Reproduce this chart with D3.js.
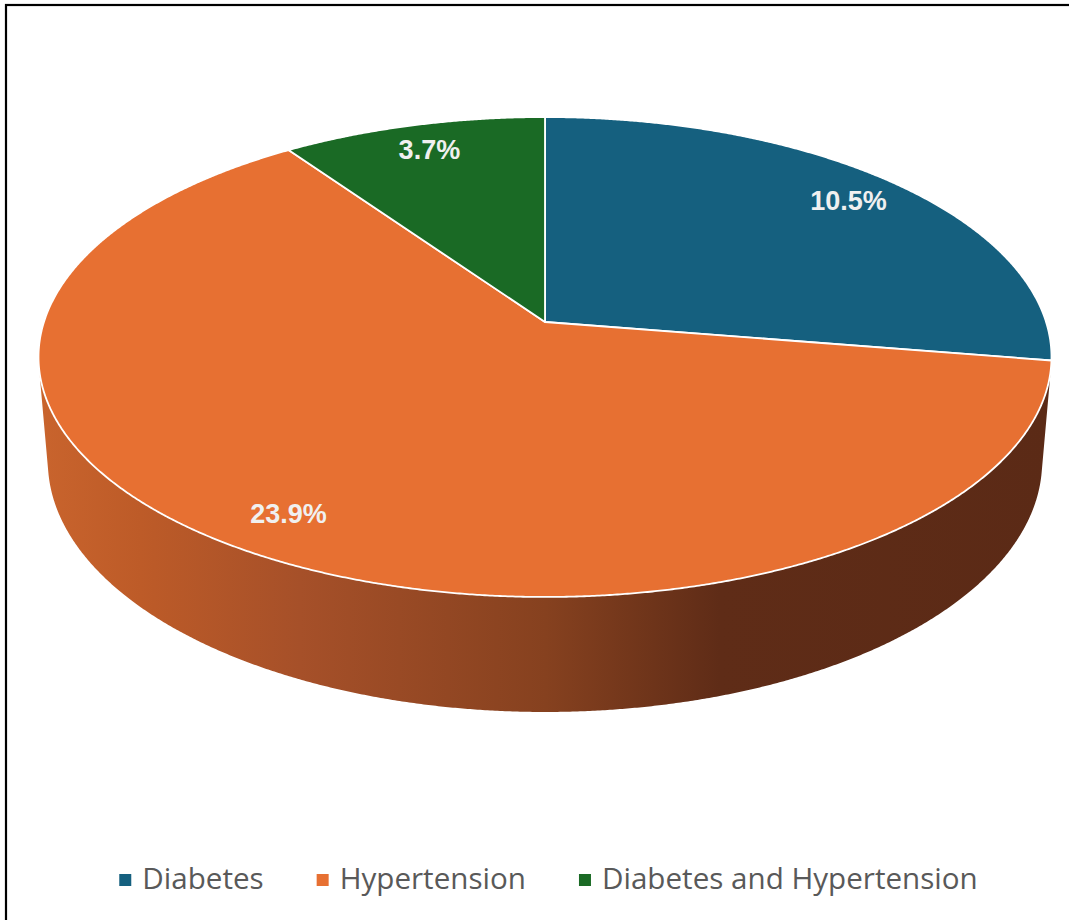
<!DOCTYPE html>
<html>
<head>
<meta charset="utf-8">
<script src="https://cdn.jsdelivr.net/npm/d3@7/dist/d3.min.js"></script>
<style>
  html, body { margin: 0; padding: 0; background: #fff; }
  svg { display: block; }
</style>
</head>
<body>
<script>
// ---- data ----
const categories = ["Diabetes", "Hypertension", "Diabetes and Hypertension"];
const values = [10.5, 23.9, 3.7];
const valueLabels = ["10.5%", "23.9%", "3.7%"];
const colors = ["#15607f", "#e77032", "#1a6a25"];

const W = 1069, H = 920;
const svg = d3.select("body").append("svg").attr("width", W).attr("height", H);

// frame
svg.append("rect").attr("x", 6).attr("y", 5).attr("width", W).attr("height", H + 10)
  .attr("fill", "#fff").attr("stroke", "#000").attr("stroke-width", 2.2);

// ---- perspective camera for 3D pie ----
const cam = { cx: 545, cy: 322, f: 3035, D: 6.057, s: Math.sin(27.95 * Math.PI / 180), c: Math.cos(27.95 * Math.PI / 180), depth: 0.2382 };
function proj(theta, r, h) {
  const x = r * Math.sin(theta);
  const yc = r * Math.cos(theta) * cam.s - h * cam.c;
  const z = cam.D + r * Math.cos(theta) * cam.c + h * cam.s;
  return [cam.cx + cam.f * x / z, cam.cy - cam.f * yc / z];
}
const step = Math.PI / 720;
function rimPoints(a0, a1, h) {
  const pts = [];
  const n = Math.max(2, Math.ceil(Math.abs(a1 - a0) / step));
  for (let i = 0; i <= n; i++) pts.push(proj(a0 + (a1 - a0) * i / n, 1, h));
  return pts;
}
const line = d3.line().curve(d3.curveLinear);

const pie = d3.pie().sort(null).value(d => d);
const arcs = pie(values);

// gradient for side wall
const defs = svg.append("defs");
const grad = defs.append("linearGradient").attr("id", "wallGrad")
  .attr("gradientUnits", "userSpaceOnUse").attr("x1", 39).attr("x2", 1052).attr("y1", 0).attr("y2", 0);
[[0, "#c9642d"], [0.1, "#bd5b28"], [0.258, "#a65029"], [0.5, "#86411f"], [0.672, "#5f2c17"], [1, "#5b2a16"]]
  .forEach(([o, col]) => grad.append("stop").attr("offset", o).attr("stop-color", col));

// visible side-wall range
const vis = Math.acos(-1 / (cam.D * cam.c));
const visStart = vis, visEnd = 2 * Math.PI - vis;

const gWall = svg.append("g");
arcs.forEach((a, i) => {
  const a0 = Math.max(a.startAngle, visStart), a1 = Math.min(a.endAngle, visEnd);
  if (a1 <= a0) return;
  const top = rimPoints(a0, a1, 0);
  const bot = rimPoints(a1, a0, cam.depth);
  gWall.append("path").attr("d", line(top.concat(bot)) + "Z")
    .attr("fill", i === 1 ? "url(#wallGrad)" : d3.color(colors[i]).darker(1.2))
    .attr("stroke", "none");
});

// top faces
const gTop = svg.append("g");
arcs.forEach((a, i) => {
  const pts = [proj(0, 0, 0)].concat(rimPoints(a.startAngle, a.endAngle, 0));
  gTop.append("path").attr("d", line(pts) + "Z")
    .attr("fill", colors[i]).attr("stroke", "#fff").attr("stroke-width", 1.8)
    .attr("stroke-linejoin", "round");
});

// data labels
const labelR = 0.86;
arcs.forEach((a, i) => {
  const mid = (a.startAngle + a.endAngle) / 2;
  const p = proj(mid, labelR, 0);
  svg.append("text").attr("x", p[0]).attr("y", p[1] + 9.5)
    .attr("text-anchor", "middle")
    .attr("font-family", "'Liberation Sans', Arial, sans-serif")
    .attr("font-weight", "bold").attr("font-size", 27)
    .attr("fill", "#f0f0f0").text(valueLabels[i]);
});

// legend
const gLeg = svg.append("g");
const items = categories.map((c, i) => {
  const g = gLeg.append("g");
  g.append("rect").attr("width", 12).attr("height", 12).attr("y", -15).attr("fill", colors[i]);
  const t = g.append("text").attr("x", 23).attr("y", 0)
    .attr("font-family", "'Open Sans', sans-serif").attr("font-size", 29.6)
    .attr("fill", "#595959").text(c);
  return { g, w: 23 + t.node().getComputedTextLength() };
});
const gap = 53;
const total = d3.sum(items, d => d.w) + gap * (items.length - 1);
let x0 = 548.5 - total / 2;
items.forEach(it => { it.g.attr("transform", `translate(${x0},889)`); x0 += it.w + gap; });
</script>
</body>
</html>
